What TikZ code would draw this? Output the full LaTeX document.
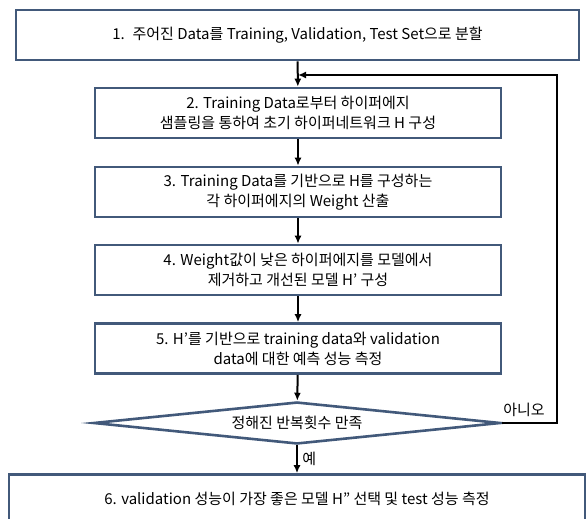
\documentclass[tikz,border=0pt]{standalone}
\usepackage{fontspec}
\setmainfont{Noto Sans CJK KR}
\usepackage{xcolor}
\usetikzlibrary{arrows.meta,shapes.geometric,positioning}

\definecolor{boxblue}{HTML}{42597A}

\begin{document}
\begin{tikzpicture}[x=1pt,y=-1pt,
    stepbox/.style={draw=boxblue, line width=2.6pt, fill=white, align=center,
                    inner sep=0pt, font=\fontsize{15}{20}\selectfont},
    check/.style={diamond, aspect=9.7, draw=boxblue, line width=2.6pt, fill=white,
                  inner sep=0pt, font=\fontsize{15}{20}\selectfont},
    flow/.style={-{Latex[length=8pt,width=7pt]}, line width=2pt},
    lbl/.style={font=\fontsize{15}{18}\selectfont}]
\useasboundingbox (0,0) rectangle (586,519);
\fill[white] (0,0) rectangle (586,519);

\node[stepbox, minimum width=563pt, minimum height=50pt] (split) at (297.5,35)
    {1.~ 주어진 Data를 Training, Validation, Test Set으로 분할};
\node[stepbox, minimum width=406pt, minimum height=50pt] (sample) at (298,113)
    {2. Training Data로부터 하이퍼에지\\샘플링을 통하여 초기 하이퍼네트워크 H 구성};
\node[stepbox, minimum width=406pt, minimum height=50pt] (weight) at (298,192)
    {3. Training Data를 기반으로 H를 구성하는\\각 하이퍼에지의 Weight 산출};
\node[stepbox, minimum width=406pt, minimum height=50pt] (prune) at (298,270)
    {4. Weight값이 낮은 하이퍼에지를 모델에서\\제거하고 개선된 모델 H’ 구성};
\node[stepbox, minimum width=406pt, minimum height=50pt] (eval) at (298,348.5)
    {5. H’를 기반으로 training data와 validation\\data에 대한 예측 성능 측정};
\node[check, minimum width=407pt, minimum height=42pt] (iter) at (297,423)
    {정해진 반복횟수 만족};
\node[stepbox, minimum width=576pt, minimum height=48pt] (final) at (297,498.5)
    {6. validation 성능이 가장 좋은 모델 H” 선택 및 test 성능 측정};

\coordinate (join) at (298,75);
\coordinate (back) at (557,75);

\draw[flow] (split) -- (sample);
\draw[flow] (sample) -- (weight);
\draw[flow] (weight) -- (prune);
\draw[flow] (prune) -- (eval);
\draw[flow] (eval) -- (iter);
\draw[flow] (iter) -- node[lbl, right=1pt] {예} (final);
\draw[flow] (iter.east) -- (back |- iter.east) -- (back) -- (join);

\node[lbl] (no) at (524,410) {아니오};
\end{tikzpicture}
\end{document}
